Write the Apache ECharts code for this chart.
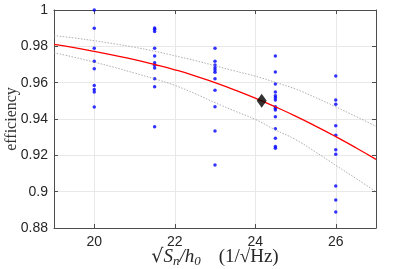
<!DOCTYPE html>
<html><head><meta charset="utf-8">
<script src="https://cdn.jsdelivr.net/npm/echarts@6/dist/echarts.min.js"></script>
<style>html,body{margin:0;padding:0;background:#fff}#c{width:415px;height:269px}</style>
</head><body><div id="c"></div>
<script>
// fitted curve and band samples (x every 0.5 from 19 to 27)
const curveX = [19,19.5,20,20.5,21,21.5,22,22.5,23,23.5,24,24.5,25,25.5,26,26.5,27];
const fitY   = [0.9811,0.9793,0.9772,0.9750,0.9727,0.9700,0.9671,0.9638,0.9600,0.9559,0.9515,0.9467,0.9416,0.9361,0.9303,0.9242,0.9178];
const upperY = [0.9859,0.9846,0.9831,0.9814,0.9795,0.9773,0.9748,0.9722,0.9693,0.9664,0.9636,0.9602,0.9565,0.9518,0.9467,0.9414,0.9360];
const lowerY = [0.9765,0.9740,0.9713,0.9684,0.9653,0.9621,0.9585,0.9540,0.9490,0.9443,0.9398,0.9340,0.9287,0.9218,0.9145,0.9073,0.9000];
// measured efficiencies per column
const colX = [20, 21.5, 23, 24.5, 26];
const colY = [
  [1.0,0.9899,0.9789,0.9718,0.9677,0.9585,0.9563,0.9549,0.9466],
  [0.9901,0.9894,0.9881,0.9789,0.9747,0.9710,0.9696,0.9681,0.9622,0.9578,0.9358],
  [0.9789,0.9718,0.9697,0.9682,0.9670,0.9657,0.9622,0.9558,0.9468,0.9334,0.9147],
  [0.9747,0.9659,0.9593,0.9549,0.9528,0.9517,0.9505,0.9468,0.9459,0.9450,0.9413,0.9347,0.9294,0.9248,0.9239],
  [0.9637,0.9505,0.9481,0.9363,0.9310,0.9231,0.9206,0.9031,0.8954,0.8888]
];
const marker = [24.16, 0.9501];
const xTicks = [20, 22, 24, 26];

const pts = [];
colX.forEach((x, i) => colY[i].forEach(y => pts.push([x, y])));
const zip = ys => curveX.map((x, i) => [x, ys[i]]);

const axisCol = '#4d4d4d';
const chart = echarts.init(document.getElementById('c'), null, {renderer: 'canvas'});
chart.setOption({
  animation: false,
  grid: {left: 54, right: 39, top: 10, bottom: 41, containLabel: false, outerBoundsMode: 'none'},
  xAxis: [{
    type: 'value', min: 19, max: 27, position: 'bottom',
    axisLine: {onZero: false, lineStyle: {color: axisCol, width: 1}},
    axisTick: {inside: true, length: 4, customValues: xTicks, lineStyle: {color: axisCol}},
    axisLabel: {customValues: xTicks, color: '#262626', fontSize: 14, fontFamily: 'Liberation Sans', margin: 7},
    splitLine: {show: true, lineStyle: {color: '#e8e8e8', width: 1}},
    name: '{v|√}{it|S}{sub|n}{it|/h}{sub|0}{sp| }{n|(1/√Hz)}',
    nameLocation: 'middle', nameGap: 18, nameMoveOverlap: false,
    nameTextStyle: {
      rich: {
        v: {fontFamily: 'DejaVu Serif', fontSize: 19, color: '#262626'},
        it: {fontFamily: 'Liberation Serif', fontStyle: 'italic', fontSize: 19, color: '#262626'},
        sub: {fontFamily: 'Liberation Serif', fontStyle: 'italic', fontSize: 13, color: '#262626', verticalAlign: 'bottom', padding: [9,0,0,0]},
        sp: {fontSize: 19, width: 18},
        n: {fontFamily: 'Liberation Serif', fontSize: 19, color: '#262626'}
      }
    }
  }, {
    type: 'value', min: 19, max: 27, position: 'top',
    axisLine: {onZero: false, lineStyle: {color: axisCol, width: 1}},
    axisTick: {inside: true, length: 4, customValues: xTicks, lineStyle: {color: axisCol}},
    axisLabel: {show: false}, splitLine: {show: false}
  }],
  yAxis: [{
    type: 'value', min: 0.88, max: 1, interval: 0.02, position: 'left',
    axisLine: {show: true, onZero: false, lineStyle: {color: axisCol, width: 1}},
    axisTick: {show: true, inside: true, length: 4, lineStyle: {color: axisCol}},
    axisLabel: {color: '#262626', fontSize: 14, fontFamily: 'Liberation Sans', margin: 6,
      formatter: v => String(Math.round(v * 100) / 100)},
    splitLine: {show: true, lineStyle: {color: '#e8e8e8', width: 1}},
    name: 'efficiency', nameLocation: 'middle', nameGap: 34, nameRotate: 90, nameMoveOverlap: false,
    nameTextStyle: {fontFamily: 'Liberation Serif', fontSize: 16, color: '#333'}
  }, {
    type: 'value', min: 0.88, max: 1, interval: 0.02, position: 'right',
    axisLine: {show: true, onZero: false, lineStyle: {color: axisCol, width: 1}},
    axisTick: {show: true, inside: true, length: 4, lineStyle: {color: axisCol}},
    axisLabel: {show: false}, splitLine: {show: false}
  }],
  series: [
    {type: 'line', data: zip(upperY), smooth: true, symbol: 'none',
     lineStyle: {color: '#9a9a9a', width: 0.8, type: [1.5, 1.5]}},
    {type: 'line', data: zip(lowerY), smooth: true, symbol: 'none',
     lineStyle: {color: '#9a9a9a', width: 0.8, type: [1.5, 1.5]}},
    {type: 'line', data: zip(fitY), smooth: true, symbol: 'none',
     lineStyle: {color: '#ff0000', width: 1.3}},
    {type: 'scatter', data: pts, symbol: 'circle', symbolSize: 3.5,
     itemStyle: {color: '#0000ff'}},
    {type: 'scatter', data: [marker], symbol: 'diamond', symbolSize: [10, 14],
     itemStyle: {color: '#000'}, z: 5}
  ]
});
</script></body></html>
